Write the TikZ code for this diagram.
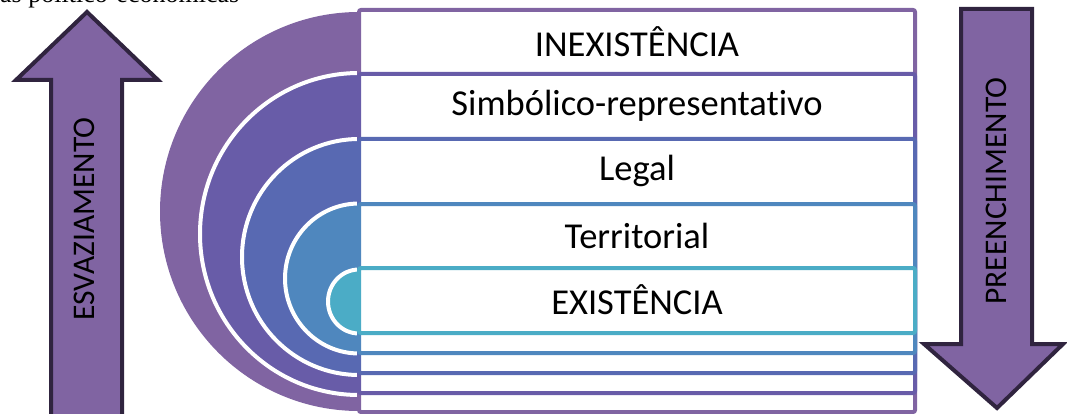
\documentclass[tikz,border=0pt]{standalone}
\usepackage{fontspec}
\setmainfont{Carlito}[Ligatures={NoCommon,NoContextual}]
\newfontfamily\timesfont{Liberation Serif}
\usetikzlibrary{positioning}
\definecolor{ringA}{HTML}{8064A2}
\definecolor{ringB}{HTML}{685CA8}
\definecolor{ringC}{HTML}{5869B2}
\definecolor{ringD}{HTML}{4F87BE}
\definecolor{ringE}{HTML}{4BACC6}
\definecolor{arrowline}{HTML}{30243F}

\begin{document}
\begin{tikzpicture}[x=1pt,y=-1pt,
  ring/.style={draw=white,line width=4pt},
  layer/.style={fill=white,line width=4pt,rounded corners=2pt},
  bigarrow/.style={draw=arrowline,fill=ringA,line width=4pt,line join=miter},
  boxtext/.style={font=\fontsize{36.5}{40}\selectfont,inner sep=0pt},
  arrowtext/.style={font=\fontsize{31.5}{36}\selectfont,inner sep=0pt,rotate=90}]
  \useasboundingbox (0,0) rectangle (1067,414);
  \clip (0,0) rectangle (1067,414);
  % line of the page text, cut off above
  \node (cut) [anchor=base west,inner sep=0pt,font=\timesfont\fontsize{26}{30}\selectfont] at (0,3) {as político-econômicas};
  % arrows
  \draw [bigarrow] (51,430) -- (51,80) -- (16,80) -- (87,12) -- (158,80) -- (122,80) -- (122,430);
  \draw [bigarrow] (961,9) -- (1032,9) -- (1032,344) -- (1063,344) -- (997,408) -- (924,344) -- (961,344) -- cycle;
  \node (esv) [arrowtext] at (84,219) {ESVAZIAMENTO};
  \node (pre) [arrowtext] at (996,191) {PREENCHIMENTO};
  % half rings
  \fill [ringA] (359,411) arc [start angle=90,end angle=270,x radius=199,y radius=199.5] -- cycle;
  \filldraw [ringB,ring] (359,395) arc [start angle=90,end angle=270,x radius=159,y radius=161] -- cycle;
  \filldraw [ringC,ring] (359,375) arc [start angle=90,end angle=270,x radius=117,y radius=118] -- cycle;
  \filldraw [ringD,ring] (359,353.5) arc [start angle=90,end angle=270,x radius=74,y radius=75] -- cycle;
  \filldraw [ringE,ring] (359,333.5) arc [start angle=90,end angle=270,x radius=31,y radius=32] -- cycle;
  % stacked boxes
  \draw [layer,draw=ringA] (359,10) rectangle (915,412);
  \draw [layer,draw=ringB] (359,74) rectangle (915,393);
  \draw [layer,draw=ringC] (359,139) rectangle (915,373);
  \draw [layer,draw=ringD] (359,204) rectangle (915,353);
  \draw [layer,draw=ringE] (359,268) rectangle (915,333);
  \node (inex) [boxtext] at (637,42) {INEXISTÊNCIA};
  \node (simb) [boxtext] at (637,106) {Simbólico-representativo};
  \node (legal) [boxtext] at (637,171) {Legal};
  \node (terr) [boxtext] at (637,236) {Territorial};
  \node (exist) [boxtext] at (637,300) {EXISTÊNCIA};
\end{tikzpicture}
\end{document}
